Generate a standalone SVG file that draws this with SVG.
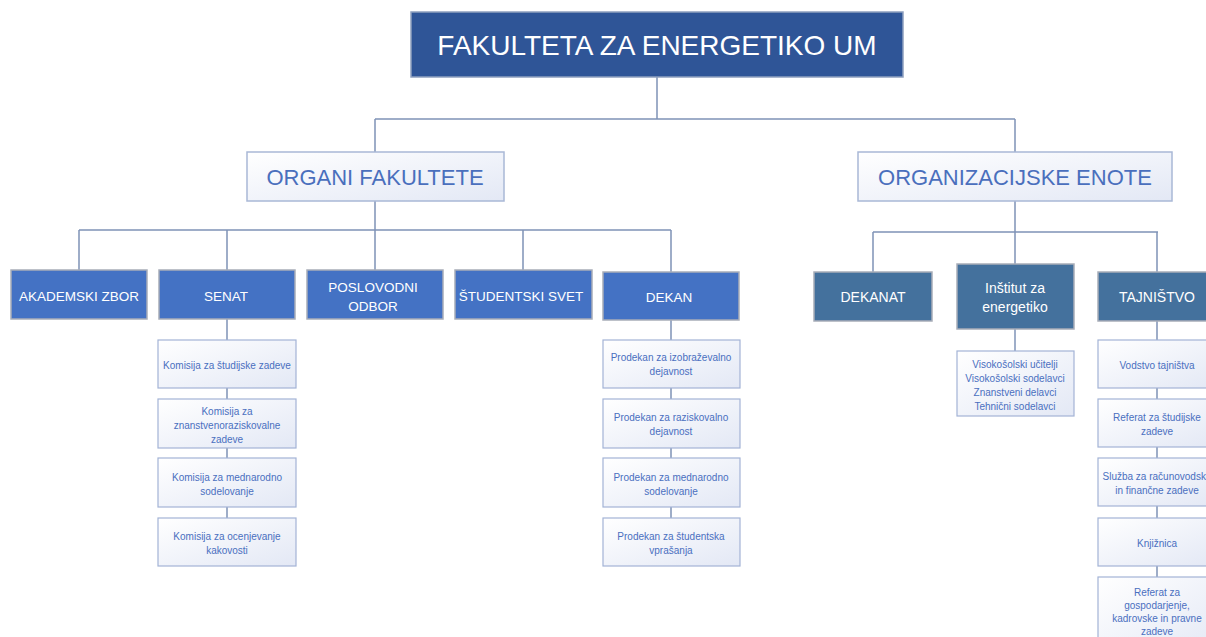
<svg xmlns="http://www.w3.org/2000/svg" width="1206" height="637" viewBox="0 0 1206 637">
<defs>
<linearGradient id="lg" x1="0" y1="0" x2="1" y2="1">
<stop offset="0" stop-color="#ffffff"/>
<stop offset="1" stop-color="#e3e8f5"/>
</linearGradient>
<style>
text{font-family:"Liberation Sans",Arial,sans-serif;text-anchor:middle;dominant-baseline:central}
.top rect{fill:#2f5597;stroke:#8fa0bf;stroke-width:1.5}
.top text{fill:#ffffff;font-size:28px}
.l1 rect{fill:url(#lg);stroke:#a9b8d6;stroke-width:1.5}
.l1 text{fill:#4a6fbd;font-size:22px}
.l2 rect{fill:#4472c4;stroke:#a8adb8;stroke-width:1.5}
.l2 text{fill:#ffffff;font-size:13.5px}
.l2r rect{fill:#44719d;stroke:#a8adb8;stroke-width:1.5}
.l2r text{fill:#ffffff;font-size:14px}
.sub rect{fill:url(#lg);stroke:#a3b3d6;stroke-width:1.2}
.sub text{fill:#4a6fbf;font-size:10px}
#connectors path{fill:none;stroke:#7f93b7;stroke-width:1.5}
</style>
</defs>
<rect width="1206" height="637" fill="#ffffff"/>
<g id="connectors">
<path d="M657 77V119M375 119H1015M375 119V152M1015 119V152"/>
<path d="M375 201V230M79 230H671M79 230V270M227 230V270M375 230V270M523 230V270M671 230V272"/>
<path d="M1015 201V232M873 232H1158M873 232V272M1015 232V264M1157 232V272"/>
<path d="M227 319V340M227 388V399M227 448V458M227 507V518"/>
<path d="M671 320V340M671 388V399M671 448V458M671 507V518"/>
<path d="M1015 329V351"/>
<path d="M1157 321V340M1157 388V399M1157 447V458M1157 506V518M1157 566V577"/>
</g>
<g id="n-fe" class="top"><rect x="411" y="12" width="492" height="65"/><text x="657" y="45">FAKULTETA ZA ENERGETIKO UM</text></g>
<g id="n-organi" class="l1"><rect x="247" y="152" width="257" height="49"/><text x="375" y="177">ORGANI FAKULTETE</text></g>
<g id="n-oe" class="l1"><rect x="858" y="152" width="314" height="49"/><text x="1015" y="177">ORGANIZACIJSKE ENOTE</text></g>
<g id="n-az" class="l2"><rect x="11" y="270" width="136" height="49"/><text x="79" y="296">AKADEMSKI ZBOR</text></g>
<g id="n-senat" class="l2"><rect x="159" y="270" width="136" height="49"/><text x="226" y="296">SENAT</text></g>
<g id="n-po" class="l2"><rect x="307" y="270" width="136" height="49"/><text x="373" y="287">POSLOVODNI</text><text x="373" y="306">ODBOR</text></g>
<g id="n-ss" class="l2"><rect x="455" y="270" width="137" height="49"/><text x="521" y="296">ŠTUDENTSKI SVET</text></g>
<g id="n-dekan" class="l2"><rect x="603" y="272" width="136" height="48"/><text x="669" y="297">DEKAN</text></g>
<g id="n-dekanat" class="l2r"><rect x="814" y="272" width="118" height="49"/><text x="873" y="297">DEKANAT</text></g>
<g id="n-institut" class="l2r"><rect x="957" y="264" width="117" height="65"/><text x="1015" y="288">Inštitut za</text><text x="1015" y="307">energetiko</text></g>
<g id="n-tajnistvo" class="l2r"><rect x="1098" y="272" width="118" height="49"/><text x="1157" y="297">TAJNIŠTVO</text></g>
<g id="n-k1" class="sub"><rect x="158" y="340" width="138" height="48"/><text x="227" y="365">Komisija za študijske zadeve</text></g>
<g id="n-k2" class="sub"><rect x="158" y="399" width="138" height="49"/><text x="227" y="411">Komisija za</text><text x="227" y="425">znanstvenoraziskovalne</text><text x="227" y="439">zadeve</text></g>
<g id="n-k3" class="sub"><rect x="158" y="458" width="138" height="49"/><text x="227" y="477">Komisija za mednarodno</text><text x="227" y="491">sodelovanje</text></g>
<g id="n-k4" class="sub"><rect x="158" y="518" width="138" height="48"/><text x="227" y="536">Komisija za ocenjevanje</text><text x="227" y="550">kakovosti</text></g>
<g id="n-p1" class="sub"><rect x="603" y="340" width="137" height="48"/><text x="671" y="357">Prodekan za izobraževalno</text><text x="671" y="371">dejavnost</text></g>
<g id="n-p2" class="sub"><rect x="603" y="399" width="137" height="49"/><text x="671" y="417">Prodekan za raziskovalno</text><text x="671" y="431">dejavnost</text></g>
<g id="n-p3" class="sub"><rect x="603" y="458" width="137" height="49"/><text x="671" y="477">Prodekan za mednarodno</text><text x="671" y="491">sodelovanje</text></g>
<g id="n-p4" class="sub"><rect x="603" y="518" width="137" height="48"/><text x="671" y="536">Prodekan za študentska</text><text x="671" y="550">vprašanja</text></g>
<g id="n-ins-sub" class="sub"><rect x="957" y="351" width="117" height="65"/><text x="1015" y="364">Visokošolski učitelji</text><text x="1015" y="378">Visokošolski sodelavci</text><text x="1015" y="392">Znanstveni delavci</text><text x="1015" y="406">Tehnični sodelavci</text></g>
<g id="n-t1" class="sub"><rect x="1098" y="340" width="118" height="48"/><text x="1157" y="365">Vodstvo tajništva</text></g>
<g id="n-t2" class="sub"><rect x="1098" y="399" width="118" height="48"/><text x="1157" y="417">Referat za študijske</text><text x="1157" y="431">zadeve</text></g>
<g id="n-t3" class="sub"><rect x="1098" y="458" width="118" height="48"/><text x="1157" y="476">Služba za računovodske</text><text x="1157" y="490">in finančne zadeve</text></g>
<g id="n-t4" class="sub"><rect x="1098" y="518" width="118" height="48"/><text x="1157" y="543">Knjižnica</text></g>
<g id="n-t5" class="sub"><rect x="1098" y="577" width="118" height="80"/><text x="1157" y="592">Referat za</text><text x="1157" y="605">gospodarjenje,</text><text x="1157" y="618">kadrovske in pravne</text><text x="1157" y="631">zadeve</text></g>
</svg>
